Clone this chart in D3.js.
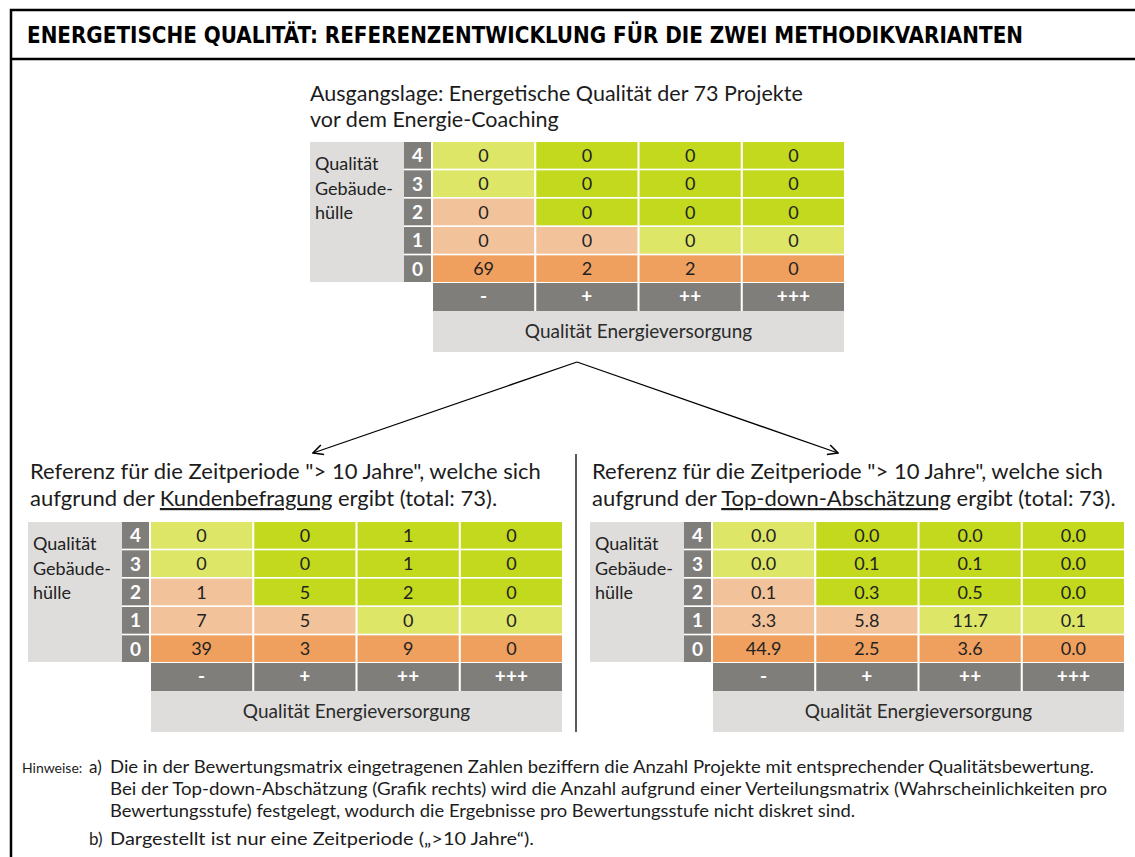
<!DOCTYPE html>
<html>
<head>
<meta charset="utf-8">
<title>Energetische Qualität</title>
<style>
  body { margin: 0; background: #fff; }
  svg text { font-family: Lato, "Open Sans", sans-serif; fill: #1c1c1c; }
</style>
</head>
<body>
<svg width="1135" height="857"></svg>
<script src="https://d3js.org/d3.v7.min.js"></script>
<script>
// data
var colLabels = ["-", "+", "++", "+++"];
var rowLabels = ["4", "3", "2", "1", "0"];

// rows from top (4) to bottom (0)
var startValues = [
  [0, 0, 0, 0],
  [0, 0, 0, 0],
  [0, 0, 0, 0],
  [0, 0, 0, 0],
  [69, 2, 2, 0]
];
var surveyValues = [
  [0, 0, 1, 0],
  [0, 0, 1, 0],
  [1, 5, 2, 0],
  [7, 5, 0, 0],
  [39, 3, 9, 0]
];
var topDownValues = [
  [0.0, 0.0, 0.0, 0.0],
  [0.0, 0.1, 0.1, 0.0],
  [0.1, 0.3, 0.5, 0.0],
  [3.3, 5.8, 11.7, 0.1],
  [44.9, 2.5, 3.6, 0.0]
];
// rating class of each cell
var ratingClass = [
  ["mittel", "gut", "gut", "gut"],
  ["mittel", "gut", "gut", "gut"],
  ["schwach", "gut", "gut", "gut"],
  ["schwach", "schwach", "mittel", "mittel"],
  ["schlecht", "schlecht", "schlecht", "schlecht"]
];
var ratingNames = ["gut", "mittel", "schwach", "schlecht"];

var color = d3.scaleOrdinal()
    .domain(ratingNames)
    .range(["#c3d91e", "#dee668", "#f2c29b", "#efa05f"]);

var darkGrey = "#807e7b",
    lightGrey = "#dedddc";

var svg = d3.select("svg");

// frame
svg.append("path")
    .attr("d", "M11,857 V10 H1135 M11,59 H1135")
    .attr("fill", "none")
    .attr("stroke", "#000")
    .attr("stroke-width", 2.5);

svg.append("text")
    .attr("x", 27)
    .attr("y", 43)
    .attr("font-size", 23)
    .attr("font-weight", "bold")
    .style("font-family", "'DejaVu Sans Condensed', 'Liberation Sans Narrow', sans-serif")
    .attr("textLength", 996)
    .attr("lengthAdjust", "spacingAndGlyphs")
    .style("fill", "#000")
    .text("ENERGETISCHE QUALITÄT: REFERENZENTWICKLUNG FÜR DIE ZWEI METHODIKVARIANTEN");

var x = d3.scaleBand()
    .domain(colLabels)
    .range([0, 411])
    .paddingInner(0.02);

var y = d3.scaleBand()
    .domain(rowLabels)
    .range([0, 140])
    .paddingInner(0.06);

function drawMatrix(left, top, values, fmt) {
  // left = left edge of the dark row-label column
  var g = svg.append("g").attr("transform", "translate(" + left + "," + top + ")");

  g.append("rect")
      .attr("x", -94).attr("y", 0)
      .attr("width", 94).attr("height", 140)
      .attr("fill", lightGrey);

  g.selectAll(".ylab")
      .data(["Qualität", "Gebäude-", "hülle"])
    .enter().append("text")
      .attr("x", -89)
      .attr("y", function(d, i) { return 28 + i * 24.5; })
      .attr("font-size", 18)
      .style("fill", "#222")
      .text(function(d) { return d; });

  var cells = svg.append("g").attr("transform", "translate(" + (left + 29) + "," + top + ")");

  // row labels
  g.selectAll(".rowlab")
      .data(rowLabels)
    .enter().append("rect")
      .attr("x", 0)
      .attr("y", function(d) { return y(d); })
      .attr("width", 27)
      .attr("height", y.bandwidth())
      .attr("fill", darkGrey);

  g.selectAll(".rowtxt")
      .data(rowLabels)
    .enter().append("text")
      .attr("x", 13.5)
      .attr("y", function(d) { return y(d) + y.bandwidth() / 2 + 7; })
      .attr("text-anchor", "middle")
      .attr("font-size", 19)
      .attr("font-weight", "bold")
      .style("fill", "#fff")
      .text(function(d) { return d; });

  var flat = [];
  values.forEach(function(row, r) {
    row.forEach(function(v, c) {
      flat.push({ row: rowLabels[r], col: colLabels[c], value: v, cls: ratingClass[r][c] });
    });
  });

  cells.selectAll(".cell")
      .data(flat)
    .enter().append("rect")
      .attr("x", function(d) { return x(d.col); })
      .attr("y", function(d) { return y(d.row); })
      .attr("width", x.bandwidth())
      .attr("height", y.bandwidth())
      .attr("fill", function(d) { return color(d.cls); });

  cells.selectAll(".val")
      .data(flat)
    .enter().append("text")
      .attr("x", function(d) { return x(d.col) + x.bandwidth() / 2; })
      .attr("y", function(d) { return y(d.row) + y.bandwidth() / 2 + 6.5; })
      .attr("text-anchor", "middle")
      .attr("font-size", 18)
      .style("fill", "#222")
      .text(function(d) { return fmt(d.value); });

  // column header row
  cells.selectAll(".colhead")
      .data(colLabels)
    .enter().append("rect")
      .attr("x", function(d) { return x(d); })
      .attr("y", 141)
      .attr("width", x.bandwidth())
      .attr("height", 28)
      .attr("fill", darkGrey);

  cells.selectAll(".coltxt")
      .data(colLabels)
    .enter().append("text")
      .attr("x", function(d) { return x(d) + x.bandwidth() / 2; })
      .attr("y", 161)
      .attr("text-anchor", "middle")
      .attr("font-size", 19)
      .attr("font-weight", "bold")
      .style("fill", "#fff")
      .text(function(d) { return d; });

  cells.append("rect")
      .attr("x", 0).attr("y", 169)
      .attr("width", x.range()[1]).attr("height", 41)
      .attr("fill", lightGrey);

  cells.append("text")
      .attr("x", x.range()[1] / 2)
      .attr("y", 196)
      .attr("text-anchor", "middle")
      .attr("font-size", 19)
      .style("fill", "#2a2a2a")
      .text("Qualität Energieversorgung");
}

// top: initial state
svg.append("text").attr("x", 310).attr("y", 101).attr("font-size", 21.5)
    .text("Ausgangslage: Energetische Qualität der 73 Projekte");
svg.append("text").attr("x", 310).attr("y", 127).attr("font-size", 21.5)
    .text("vor dem Energie-Coaching");

drawMatrix(404, 142, startValues, d3.format("d"));

// arrows
svg.append("defs").append("marker")
    .attr("id", "arrow")
    .attr("viewBox", "0 0 12 12")
    .attr("refX", 11).attr("refY", 6)
    .attr("markerWidth", 12).attr("markerHeight", 12)
    .attr("markerUnits", "userSpaceOnUse")
    .attr("orient", "auto")
  .append("path")
    .attr("d", "M1,1 L11,6 L1,11")
    .attr("fill", "none")
    .attr("stroke", "#000")
    .attr("stroke-width", 1.6);

[[313, 453], [838, 453]].forEach(function(p) {
  svg.append("line")
      .attr("x1", 577).attr("y1", 362)
      .attr("x2", p[0]).attr("y2", p[1])
      .attr("stroke", "#000")
      .attr("stroke-width", 1.3)
      .attr("marker-end", "url(#arrow)");
});

svg.append("line")
    .attr("x1", 576).attr("y1", 454)
    .attr("x2", 576).attr("y2", 732)
    .attr("stroke", "#000")
    .attr("stroke-width", 1.3);

// bottom: the two reference variants
function caption(x0, word) {
  svg.append("text").attr("x", x0).attr("y", 479).attr("font-size", 22)
      .text("Referenz für die Zeitperiode \"> 10 Jahre\", welche sich");
  var t = svg.append("text").attr("x", x0).attr("y", 506).attr("font-size", 22);
  t.append("tspan").text("aufgrund der ");
  t.append("tspan").attr("text-decoration", "underline").text(word);
  t.append("tspan").text(" ergibt (total: 73).");
}

caption(30, "Kundenbefragung");
drawMatrix(122, 522, surveyValues, d3.format("d"));

caption(592, "Top-down-Abschätzung");
drawMatrix(684, 522, topDownValues, d3.format(".1f"));

// notes
var notes = svg.append("g");
function note(x0, y0, txt, len) {
  var t = notes.append("text")
      .attr("x", x0).attr("y", y0)
      .attr("font-size", 17)
      .text(txt);
  if (len) t.attr("textLength", len).attr("lengthAdjust", "spacingAndGlyphs");
}
notes.append("text").attr("x", 22).attr("y", 773).attr("font-size", 14).text("Hinweise:");
note(89, 773, "a)");
note(89, 845, "b)");
note(110, 773, "Die in der Bewertungsmatrix eingetragenen Zahlen beziffern die Anzahl Projekte mit entsprechender Qualitätsbewertung.", 984);
note(110, 795, "Bei der Top-down-Abschätzung (Grafik rechts) wird die Anzahl aufgrund einer Verteilungsmatrix (Wahrscheinlichkeiten pro", 997);
note(110, 817, "Bewertungsstufe) festgelegt, wodurch die Ergebnisse pro Bewertungsstufe nicht diskret sind.", 745);
note(110, 845, "Dargestellt ist nur eine Zeitperiode („>10 Jahre“).", 424);
</script>
</body>
</html>
